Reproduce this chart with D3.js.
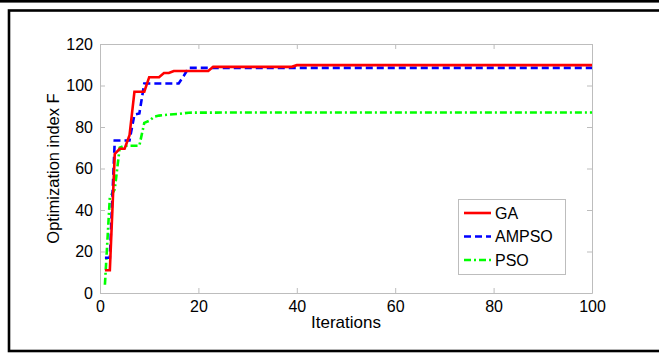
<!DOCTYPE html>
<html>
<head>
<meta charset="utf-8">
<script src="https://cdn.jsdelivr.net/npm/d3@7"></script>
<style>
  html, body { margin: 0; padding: 0; background: #fff; }
  svg { display: block; }
  text { font-family: "Liberation Sans", Arial, sans-serif; fill: #000; }
</style>
</head>
<body>
<svg id="chart" width="659" height="354"></svg>
<script>
// Convergence of the optimization index F over the iterations (points where the curve changes)
const gaIter    = [1, 2, 3, 4, 5, 6, 7, 8, 9, 10, 11, 12, 13, 14, 15, 22, 23, 39, 40, 100];
const gaValue   = [11, 11, 67, 69.5, 69.5, 76, 97, 97, 97, 104, 104, 104, 106, 106, 107, 107, 109, 109, 109.8, 109.8];

const ampsoIter  = [1, 2, 3, 4, 5, 6, 7, 8, 9, 16, 17, 18, 100];
const ampsoValue = [17, 17, 73.5, 73.5, 73.5, 73.5, 86, 86.5, 101, 101, 104.5, 108.5, 108.5];

const psoIter   = [1, 2, 3, 4, 5, 8, 9, 10, 11, 12, 14, 16, 18, 30, 100];
const psoValue  = [4, 46, 50, 70, 71, 71, 82, 83, 85, 85.5, 86, 86.3, 86.9, 87, 87];

const seriesNames = ["GA", "AMPSO", "PSO"];
const xTicks = [0, 20, 40, 60, 80, 100];
const yTicks = [0, 20, 40, 60, 80, 100, 120];

const svg = d3.select("#chart");

// outer frame
svg.append("rect").attr("x", 0).attr("y", 0).attr("width", 659).attr("height", 2.6).attr("fill", "#000");
svg.append("rect").attr("x", 9).attr("y", 10.5).attr("width", 700).attr("height", 340.5)
  .attr("fill", "none").attr("stroke", "#000").attr("stroke-width", 2.6);

const x = d3.scaleLinear().domain([0, 100]).range([100, 592]);
const y = d3.scaleLinear().domain([0, 120]).range([293, 44]);

const axisColor = "#bdbdbd";
const g = svg.append("g");

// bottom and left axes with inward ticks
const xAxis = g.append("g").attr("transform", `translate(0,${y(0)})`)
  .call(d3.axisBottom(x).tickValues(xTicks).tickSizeInner(-5).tickSizeOuter(0).tickPadding(8));
const yAxis = g.append("g").attr("transform", `translate(${x(0)},0)`)
  .call(d3.axisLeft(y).tickValues(yTicks).tickSizeInner(-5).tickSizeOuter(0).tickPadding(7));
// top and right mirror ticks
const xTop = g.append("g").attr("transform", `translate(0,${y(120)})`)
  .call(d3.axisTop(x).tickValues(xTicks).tickSizeInner(-5).tickSizeOuter(0).tickFormat(""));
const yRight = g.append("g").attr("transform", `translate(${x(100)},0)`)
  .call(d3.axisRight(y).tickValues(yTicks).tickSizeInner(-5).tickSizeOuter(0).tickFormat(""));

[xAxis, yAxis, xTop, yRight].forEach(a => {
  a.select(".domain").attr("stroke", axisColor).attr("stroke-width", 1);
  a.selectAll(".tick line").attr("stroke", axisColor).attr("stroke-width", 1);
  a.selectAll("text").attr("font-size", 16).attr("font-family", "Liberation Sans, Arial, sans-serif").attr("fill", "#000");
});

// axis titles
svg.append("text").attr("x", (x(0) + x(100)) / 2).attr("y", 328)
  .attr("text-anchor", "middle").attr("font-size", 17).text("Iterations");
svg.append("text").attr("transform", `translate(59,${(y(0) + y(120)) / 2}) rotate(-90)`)
  .attr("text-anchor", "middle").attr("font-size", 16.5).text("Optimization index F");

const line = d3.line().x(d => x(d[0])).y(d => y(d[1]));
const series = [
  { name: seriesNames[0], data: d3.zip(gaIter, gaValue), color: "#ff0000", dash: null },
  { name: seriesNames[1], data: d3.zip(ampsoIter, ampsoValue), color: "#0000ff", dash: "7,4" },
  { name: seriesNames[2], data: d3.zip(psoIter, psoValue), color: "#00ff00", dash: "7,3,2,3" }
];

// draw PSO first, then AMPSO, then GA on top
[series[2], series[1], series[0]].forEach(s => {
  svg.append("path").datum(s.data).attr("d", line)
    .attr("fill", "none").attr("stroke", s.color).attr("stroke-width", 2.6)
    .attr("stroke-dasharray", s.dash).attr("stroke-linejoin", "miter");
});

// legend
const lg = svg.append("g");
lg.append("rect").attr("x", 458.5).attr("y", 199.5).attr("width", 107).attr("height", 75)
  .attr("fill", "#fff").attr("stroke", axisColor).attr("stroke-width", 1);
series.forEach((s, i) => {
  const ly = 213 + i * 23.5;
  lg.append("line").attr("x1", 464).attr("x2", 491).attr("y1", ly).attr("y2", ly)
    .attr("stroke", s.color).attr("stroke-width", 2.6).attr("stroke-dasharray", s.dash);
  lg.append("text").attr("x", 495).attr("y", ly).attr("dy", "0.36em")
    .attr("font-size", 16).text(s.name);
});
</script>
</body>
</html>
